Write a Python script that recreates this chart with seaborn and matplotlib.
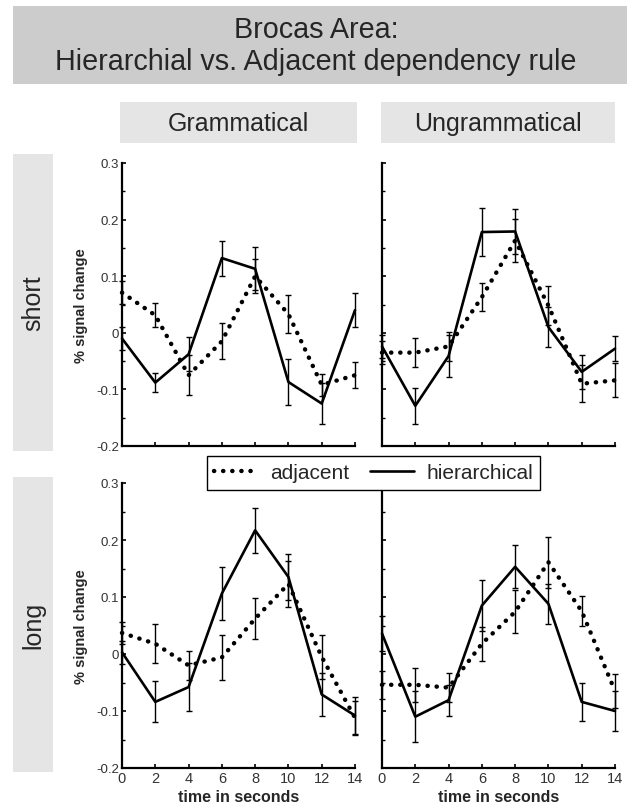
import numpy as np
import pandas as pd
import matplotlib
matplotlib.use("Agg")
import matplotlib.pyplot as plt
from matplotlib.patches import Rectangle
from matplotlib.lines import Line2D
from matplotlib.ticker import MultipleLocator
import seaborn as sns

sns.set_theme(style="ticks")
plt.rcParams['font.family'] = ['Liberation Sans', 'DejaVu Sans']

time = [0, 2, 4, 6, 8, 10, 12, 14]
columns = ["Grammatical", "Ungrammatical"]
rows = ["short", "long"]
yticks = [-0.2, -0.1, 0, 0.1, 0.2, 0.3]
ytick_labels = ["-0.2", "-0.1", "0", "0.1", "0.2", "0.3"]

# short / grammatical
sg_hier = [-0.010, -0.088, -0.038, 0.132, 0.113, -0.087, -0.125, 0.040]
sg_hier_err = [0.020, 0.017, 0.030, 0.031, 0.038, 0.040, 0.037, 0.030]
sg_adj = [0.071, 0.031, -0.075, -0.015, 0.100, 0.033, -0.092, -0.075]
sg_adj_err = [0.020, 0.021, 0.035, 0.032, 0.030, 0.034, 0.020, 0.023]
# short / ungrammatical
su_hier = [-0.024, -0.129, -0.041, 0.178, 0.179, 0.010, -0.069, -0.028]
su_hier_err = [0.020, 0.032, 0.037, 0.043, 0.040, 0.035, 0.030, 0.022]
su_adj = [-0.035, -0.035, -0.024, 0.063, 0.163, 0.048, -0.090, -0.084]
su_adj_err = [0.020, 0.026, 0.025, 0.025, 0.038, 0.034, 0.033, 0.030]
# long / grammatical
lg_hier = [0.003, -0.084, -0.058, 0.106, 0.217, 0.135, -0.071, -0.108]
lg_hier_err = [0.020, 0.036, 0.042, 0.047, 0.040, 0.040, 0.037, 0.032]
lg_adj = [0.037, 0.018, -0.020, -0.006, 0.062, 0.123, -0.005, -0.112]
lg_adj_err = [0.020, 0.034, 0.025, 0.040, 0.036, 0.040, 0.038, 0.030]
# long / ungrammatical
lu_hier = [0.036, -0.110, -0.081, 0.085, 0.153, 0.088, -0.084, -0.100]
lu_hier_err = [0.030, 0.045, 0.027, 0.045, 0.038, 0.035, 0.033, 0.035]
lu_adj = [-0.054, -0.054, -0.059, 0.018, 0.074, 0.161, 0.075, -0.065]
lu_adj_err = [0.025, 0.030, 0.025, 0.030, 0.038, 0.045, 0.026, 0.030]

panels = {
    ("short", "Grammatical"): (sg_adj, sg_adj_err, sg_hier, sg_hier_err),
    ("short", "Ungrammatical"): (su_adj, su_adj_err, su_hier, su_hier_err),
    ("long", "Grammatical"): (lg_adj, lg_adj_err, lg_hier, lg_hier_err),
    ("long", "Ungrammatical"): (lu_adj, lu_adj_err, lu_hier, lu_hier_err),
}

W, H = 627, 812
fig = plt.figure(figsize=(W / 100, H / 100), dpi=100)

def fx(px):
    return px / W

def fy(py):
    return 1 - py / H

def box(x0, y0, x1, y1, color):
    fig.patches.append(Rectangle((fx(x0), fy(y1)), fx(x1) - fx(x0), fy(y0) - fy(y1),
                                 transform=fig.transFigure, facecolor=color,
                                 edgecolor='none', zorder=0))

# title box
box(13, 7, 627, 85, '#cccccc')
fig.text(fx(316), fy(46), "Brocas Area:\nHierarchial vs. Adjacent dependency rule",
         ha='center', va='center', fontsize=20.7, linespacing=1.2)
# column headers
col_boxes = [(120, 357), (381, 615)]
for (x0, x1), name in zip(col_boxes, columns):
    box(x0, 103, x1, 144, '#e5e5e5')
    fig.text(fx((x0 + x1) / 2), fy(124), name, ha='center', va='center', fontsize=18)
# row headers
row_boxes = [(155, 452), (478, 773)]
for (y0, y1), name in zip(row_boxes, rows):
    box(13, y0, 53, y1, '#e5e5e5')
    fig.text(fx(33), fy((y0 + y1) / 2), name, ha='center', va='center',
             rotation=90, fontsize=18)

ax_pos = {
    ("short", "Grammatical"): (122, 164, 355, 447),
    ("short", "Ungrammatical"): (382, 164, 615, 447),
    ("long", "Grammatical"): (122, 484, 355, 769),
    ("long", "Ungrammatical"): (382, 484, 615, 769),
}

dot_style = (0, (0.05, 2.0))
for (r, c), (x0, y0, x1, y1) in ax_pos.items():
    ax = fig.add_axes([fx(x0), fy(y1), fx(x1) - fx(x0), fy(y0) - fy(y1)])
    adj, adj_err, hier, hier_err = panels[(r, c)]
    df = pd.DataFrame({"time": time * 2,
                       "value": adj + hier,
                       "rule": ["adjacent"] * 8 + ["hierarchical"] * 8})
    sns.lineplot(data=df[df.rule == "adjacent"], x="time", y="value", ax=ax,
                 color='black', lw=3.2, linestyle=dot_style, dash_capstyle='round',
                 clip_on=False, legend=False)
    sns.lineplot(data=df[df.rule == "hierarchical"], x="time", y="value", ax=ax,
                 color='black', lw=1.9, clip_on=False, legend=False)
    ax.errorbar(time, adj, yerr=adj_err, fmt='none', ecolor='black', elinewidth=1.0,
                capsize=2.2, capthick=1.0, clip_on=False)
    ax.errorbar(time, hier, yerr=hier_err, fmt='none', ecolor='black', elinewidth=1.0,
                capsize=2.2, capthick=1.0, clip_on=False)
    ax.set_xlim(0, 14)
    ax.set_ylim(-0.2, 0.3)
    ax.set_xticks(time)
    ax.set_yticks(yticks)
    ax.yaxis.set_minor_locator(MultipleLocator(0.05))
    for s in ['top', 'right']:
        ax.spines[s].set_visible(False)
    for s in ['left', 'bottom']:
        ax.spines[s].set_linewidth(1.6)
        ax.spines[s].set_color('black')
    ax.tick_params(axis='both', which='major', direction='in', length=3, width=1.2,
                   colors='black', labelsize=10, pad=2)
    ax.tick_params(axis='y', which='minor', direction='in', length=2, width=1.0,
                   colors='black')
    ax.set_xlabel("")
    ax.set_ylabel("")
    ax.patch.set_alpha(0)
    if c == "Grammatical":
        ax.set_yticklabels(ytick_labels, fontsize=9.5, color='#333333')
        ax.set_ylabel("% signal change", fontsize=10.5, fontweight='bold', labelpad=6)
    else:
        ax.set_yticklabels([])
    if r == "long":
        ax.set_xticklabels([str(t) for t in time], fontsize=10.5, color='#333333')
        ax.set_xlabel("time in seconds", fontsize=11.5, fontweight='bold', labelpad=3)
    else:
        ax.set_xticklabels([])

handles = [Line2D([], [], color='black', lw=3.2, linestyle=dot_style, dash_capstyle='round'),
           Line2D([], [], color='black', lw=1.9)]
leg = fig.legend(handles, ["adjacent", "hierarchical"], loc='center',
                 bbox_to_anchor=(fx(373.5), fy(474)), ncol=2, fontsize=15,
                 frameon=True, fancybox=False, edgecolor='black', framealpha=1,
                 handlelength=2.1, handletextpad=0.6, columnspacing=1.0,
                 borderpad=0.35)
leg.get_frame().set_linewidth(1.0)

fig.savefig("out.png", dpi=100)
